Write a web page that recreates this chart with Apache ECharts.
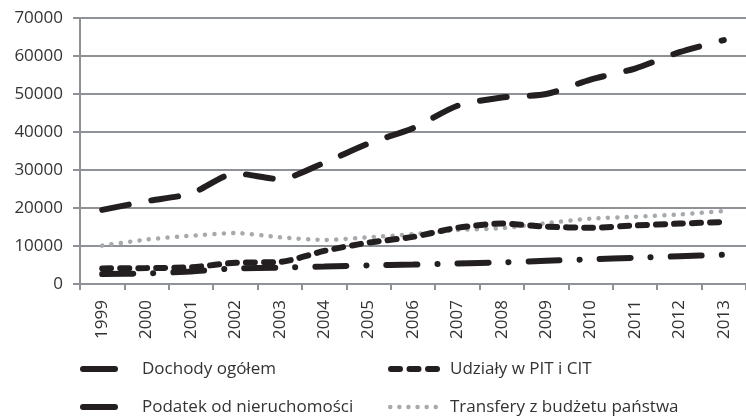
<!DOCTYPE html>
<html>
<head>
<meta charset="utf-8">
<script src="https://cdn.jsdelivr.net/npm/echarts@6/dist/echarts.min.js"></script>
<style>
  html, body { margin: 0; padding: 0; background: #fff; }
  #chart { width: 746px; height: 418px; }
</style>
</head>
<body>
<div id="chart"></div>
<script>
// dane
const years = ['1999', '2000', '2001', '2002', '2003', '2004', '2005', '2006', '2007', '2008', '2009', '2010', '2011', '2012', '2013']
const dochody = [19500, 21800, 23800, 29100, 27600, 31900, 37000, 41000, 46900, 49100, 50000, 53800, 56700, 61000, 64200]
const udzialy = [4100, 4200, 4400, 5600, 5800, 8700, 10900, 12400, 14800, 15900, 15100, 14800, 15400, 15900, 16300]
const podatek = [2600, 2800, 3300, 4100, 4300, 4600, 4900, 5100, 5400, 5700, 6100, 6500, 6900, 7300, 7700]
const transfery = [10100, 11700, 12700, 13400, 12300, 11600, 12300, 13100, 14200, 14700, 16000, 17200, 17700, 18300, 19200]
const names = ['Dochody ogółem', 'Udziały w PIT i CIT', 'Podatek od nieruchomości', 'Transfery z budżetu państwa']

const fontFamily = 'Open Sans'
const textColor = '#333'
const gridColor = '#8e9297'
const black = '#231f20'
const grey = '#a7a9ac'

// style linii
const dashDochody = [27, 23]
const dashUdzialy = [9, 9]
const dashPodatek = [31, 20, 0.1, 20]
const dotTransfery = [0.1, 9.3]

// ikony legendy
const iconSolid = 'path://M3,0H35A3,3 0 0 1 35,6H3A3,3 0 0 1 3,0Z'
const iconDashed = 'path://M3,0H12A3,3 0 0 1 12,6H3A3,3 0 0 1 3,0Z' +
  'M21.5,0H30.5A3,3 0 0 1 30.5,6H21.5A3,3 0 0 1 21.5,0Z' +
  'M40,0H49A3,3 0 0 1 49,6H40A3,3 0 0 1 40,0Z'
const iconDots = 'path://' + [2.25, 11.35, 20.45, 29.55, 38.65, 47.75].map(function (c) {
  return 'M' + (c - 2.25) + ',3A2.25,2.25 0 1 0 ' + (c + 2.25) + ',3A2.25,2.25 0 1 0 ' + (c - 2.25) + ',3Z'
}).join('')

const chart = echarts.init(document.getElementById('chart'))

function legendItem (name, left, top, width, height, pad, icon, color) {
  return {
    data: [name],
    left: left,
    top: top,
    padding: 0,
    icon: icon,
    itemWidth: width,
    itemHeight: height,
    selectedMode: false,
    itemStyle: { color: color, borderWidth: 0 },
    textStyle: {
      fontFamily: fontFamily,
      fontSize: 17,
      lineHeight: 20,
      color: textColor,
      padding: [0, 0, 0, pad]
    }
  }
}

const option = {
  animation: false,
  backgroundColor: '#fff',
  grid: {
    left: 80,
    right: -4,
    top: 18,
    bottom: 134
  },
  legend: [
    legendItem(names[0], 80, 359, 38, 6, 19, iconSolid, black),
    legendItem(names[1], 388, 359, 52, 6, 5, iconDashed, black),
    legendItem(names[2], 80, 397, 38, 6, 19, iconSolid, black),
    legendItem(names[3], 388, 397, 50, 4.5, 7, iconDots, grey)
  ],
  xAxis: {
    type: 'category',
    data: years,
    boundaryGap: true,
    axisLine: { lineStyle: { color: gridColor, width: 2 } },
    axisTick: { show: true, length: 6, lineStyle: { color: gridColor, width: 2 } },
    axisLabel: {
      rotate: 90,
      margin: 16,
      fontFamily: fontFamily,
      fontSize: 17,
      color: textColor
    }
  },
  yAxis: {
    type: 'value',
    min: 0,
    max: 70000,
    interval: 10000,
    axisLine: { show: true, lineStyle: { color: gridColor, width: 2 } },
    axisTick: { show: true, length: 7, lineStyle: { color: gridColor, width: 2 } },
    splitLine: { lineStyle: { color: gridColor, width: 2 } },
    axisLabel: {
      margin: 17,
      fontFamily: fontFamily,
      fontSize: 17,
      color: textColor,
      formatter: function (v) { return String(v) }
    }
  },
  series: [
    {
      name: names[0],
      type: 'line',
      data: dochody,
      symbol: 'none',
      smooth: 0.25,
      lineStyle: { color: black, width: 6, cap: 'round', type: dashDochody },
      itemStyle: { color: black },
      z: 5
    },
    {
      name: names[1],
      type: 'line',
      data: udzialy,
      symbol: 'none',
      smooth: 0.25,
      lineStyle: { color: black, width: 6, cap: 'round', type: dashUdzialy },
      itemStyle: { color: black },
      z: 4
    },
    {
      name: names[2],
      type: 'line',
      data: podatek,
      symbol: 'none',
      smooth: 0.25,
      lineStyle: { color: black, width: 6, cap: 'round', type: dashPodatek },
      itemStyle: { color: black },
      z: 3
    },
    {
      name: names[3],
      type: 'line',
      data: transfery,
      symbol: 'none',
      smooth: 0.25,
      lineStyle: { color: grey, width: 4.5, cap: 'round', type: dotTransfery },
      itemStyle: { color: grey },
      z: 2
    }
  ]
}

chart.setOption(option, true)
</script>
</body>
</html>
